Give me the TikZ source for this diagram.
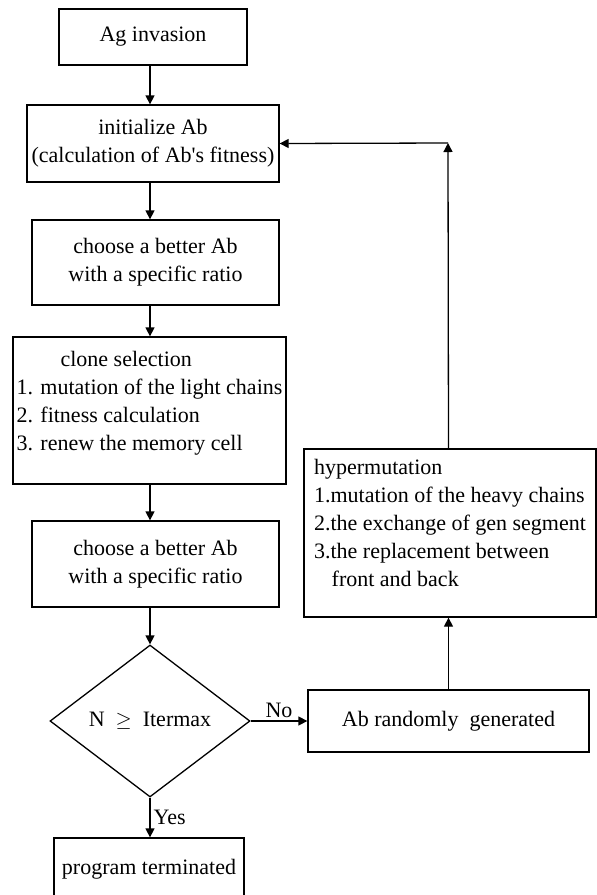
\documentclass[tikz,border=0pt]{standalone}
\usepackage{fontspec}
\setmainfont{Liberation Serif}
\usetikzlibrary{arrows.meta,shapes.geometric}

\begin{document}
\begin{tikzpicture}[x=1pt,y=-1pt,line width=1.3pt,
  box/.style={draw,rectangle,inner sep=0pt,align=center,font=\fontsize{22}{28}\selectfont},
  arr/.style={-{Triangle[length=9pt,width=9pt]}},
  lbl/.style={font=\fontsize{22}{28}\selectfont,inner sep=3pt}]
\clip (0,0) rectangle (597,895);
% main column
\node[box,minimum width=188,minimum height=56] (ag) at (153,37) {Ag invasion};
\node[box,minimum width=252,minimum height=77] (init) at (153,143.5) {initialize Ab\\(calculation of Ab\textquotesingle s fitness)};
\node[box,minimum width=247,minimum height=85] (choose1) at (155.5,262.5) {choose a better Ab\\with a specific ratio};
\node[box,align=left,minimum width=273,minimum height=147] (clone) at (149.5,410.5) {\hspace*{2em}clone selection\\1. mutation of the light chains\\2. fitness calculation\\3. renew the memory cell\\[-8pt]\mbox{}};
\node[box,minimum width=247,minimum height=86] (choose2) at (155.5,564) {choose a better Ab\\with a specific ratio};
\node[draw,diamond,aspect=1.32,inner sep=0pt,minimum width=200,minimum height=152,font=\fontsize{22}{28}\selectfont] (check) at (150,721) {N~ $\geq$ ~Itermax};
\node[box,minimum width=190,minimum height=62] (term) at (149,869) {program terminated};
% right column
\node[box,minimum width=281,minimum height=62] (rand) at (448.5,721) {Ab randomly~ generated};
\node[box,align=left,minimum width=292,minimum height=168] (hyper) at (450,533) {hypermutation\\1.mutation of the heavy chains\\2.the exchange of gen segment\\3.the replacement between\\\hspace*{0.8em}front and back\\[-8pt]\mbox{}};
\coordinate (corner) at (448,143);
% connectors
\draw[arr] (ag.south -| check.north) -- (init.north -| check.north);
\draw[arr] (init.south -| check.north) -- (choose1.north -| check.north);
\draw[arr] (choose1.south -| check.north) -- (clone.north -| check.north);
\draw[arr] (clone.south -| check.north) -- (choose2.north -| check.north);
\draw[arr] (choose2.south -| check.north) -- (check.north);
\draw[arr] (check.south) -- (term.north -| check.south) node[lbl,midway,right] {Yes};
\draw[arr] (check.east) -- (rand.west) node[lbl,midway,above] {No};
\draw[arr] (rand.north) -- (hyper.south -| rand.north);
\draw[arr] (hyper.north -| rand.north) -- (corner);
\draw[arr] (corner) -- (init.east);
\end{tikzpicture}
\end{document}
